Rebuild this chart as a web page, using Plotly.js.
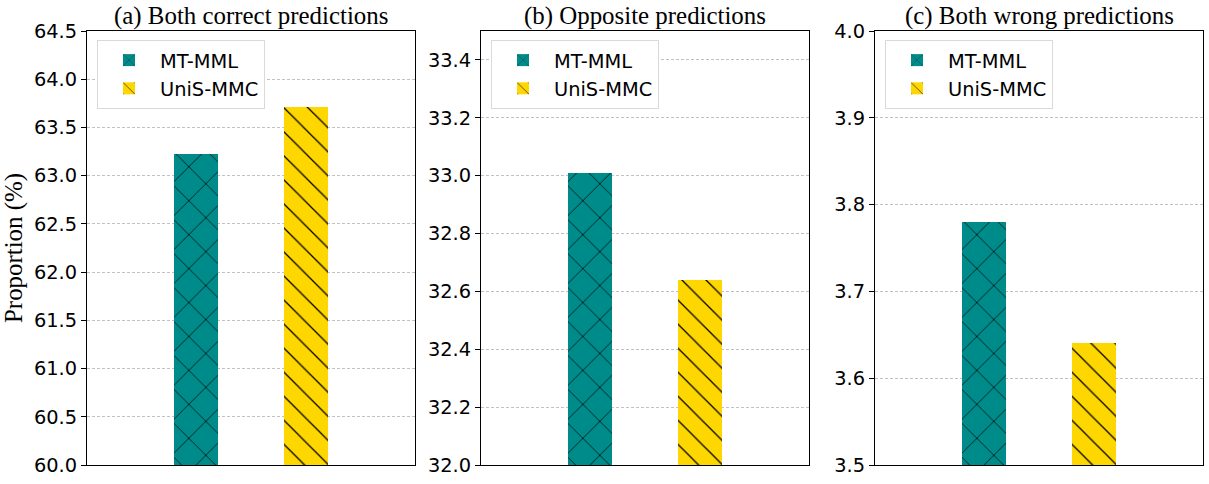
<!DOCTYPE html>
<html>
<head>
<meta charset="utf-8">
<script src="https://cdn.plot.ly/plotly-3.0.1.min.js"></script>
<style>
  html, body { margin: 0; padding: 0; background: #fff; }
  #plotArea { width: 1209px; height: 484px; }
</style>
</head>
<body>
<div id="plotArea"></div>
<script>
// data
var methods = ["MT-MML", "UniS-MMC"];
var panelTitles = ["(a) Both correct predictions", "(b) Opposite predictions", "(c) Both wrong predictions"];
var bothCorrect = [63.22, 63.71];
var opposite = [33.01, 32.64];
var bothWrong = [3.78, 3.64];
var panelValues = [bothCorrect, opposite, bothWrong];
var yRanges = [[60, 64.5], [32, 33.5], [3.5, 4.0]];
var yTicks = [
  [60.0, 60.5, 61.0, 61.5, 62.0, 62.5, 63.0, 63.5, 64.0, 64.5],
  [32.0, 32.2, 32.4, 32.6, 32.8, 33.0, 33.2, 33.4],
  [3.5, 3.6, 3.7, 3.8, 3.9, 4.0]
];

var colors = ["#008B8B", "#FFD700"];
var hatches = ["x", "\\"];
var hatchSize = [24, 17];
var hatchSolid = [0.06, 0.075];
var W = 1209, H = 484;
var xDomains = [[87 / W, 415 / W], [481 / W, 809 / W], [875 / W, 1203 / W]];
var yDomain = [19 / H, 453 / H];
var tickFont = { family: "DejaVu Sans", size: 19.4, color: "#000" };
var serif = { family: "Liberation Serif, Times New Roman, serif", size: 24.9, color: "#000" };

var data = [];
var layout = {
  width: W, height: H,
  margin: { l: 0, r: 0, t: 0, b: 0 },
  paper_bgcolor: "#fff",
  plot_bgcolor: "#fff",
  showlegend: true,
  bargap: 0,
  annotations: []
};

panelValues.forEach(function (vals, p) {
  var sfx = p === 0 ? "" : String(p + 1);
  methods.forEach(function (m, i) {
    data.push({
      type: "bar",
      x: [i],
      y: [vals[i]],
      width: 0.4,
      name: m,
      xaxis: "x" + sfx,
      yaxis: "y" + sfx,
      legend: "legend" + sfx,
      marker: {
        color: colors[i],
        line: { width: 0 },
        pattern: { shape: hatches[i], fgcolor: "#000", bgcolor: colors[i], size: hatchSize[i], solidity: hatchSolid[i] }
      },
      hoverinfo: "skip"
    });
  });

  layout["xaxis" + sfx] = {
    domain: xDomains[p],
    anchor: "y" + sfx,
    range: [-1, 2],
    showticklabels: false,
    ticks: "",
    showgrid: false,
    zeroline: false,
    showline: true, mirror: true, linecolor: "#000", linewidth: 1
  };
  layout["yaxis" + sfx] = {
    domain: yDomain,
    anchor: "x" + sfx,
    range: yRanges[p],
    tickvals: yTicks[p],
    tickformat: ".1f",
    tickfont: tickFont,
    ticks: "outside", ticklen: 5, tickwidth: 1, tickcolor: "#000",
    showgrid: true, gridcolor: "#b0b0b0", gridwidth: 0.8, griddash: "3px,2px",
    zeroline: false,
    showline: true, mirror: true, linecolor: "#000", linewidth: 1
  };
  layout["legend" + sfx] = {
    x: (xDomains[p][0] * W + 10) / W,
    y: 1 - 40 / H,
    xanchor: "left", yanchor: "top",
    bgcolor: "#fff",
    bordercolor: "#d9d9d9", borderwidth: 1,
    font: { family: "DejaVu Sans", size: 19.4, color: "#000" },
    traceorder: "normal",
    itemwidth: 52
  };
  layout.annotations.push({
    text: panelTitles[p],
    xref: "paper", yref: "paper",
    x: (xDomains[p][0] + xDomains[p][1]) / 2,
    y: 1 - 16 / H,
    xanchor: "center", yanchor: "middle",
    showarrow: false,
    font: serif
  });
});

layout.yaxis.title = { text: "Proportion (%)", font: serif, standoff: 4 };

Plotly.newPlot("plotArea", data, layout, { displayModeBar: false, staticPlot: true });
</script>
</body>
</html>
